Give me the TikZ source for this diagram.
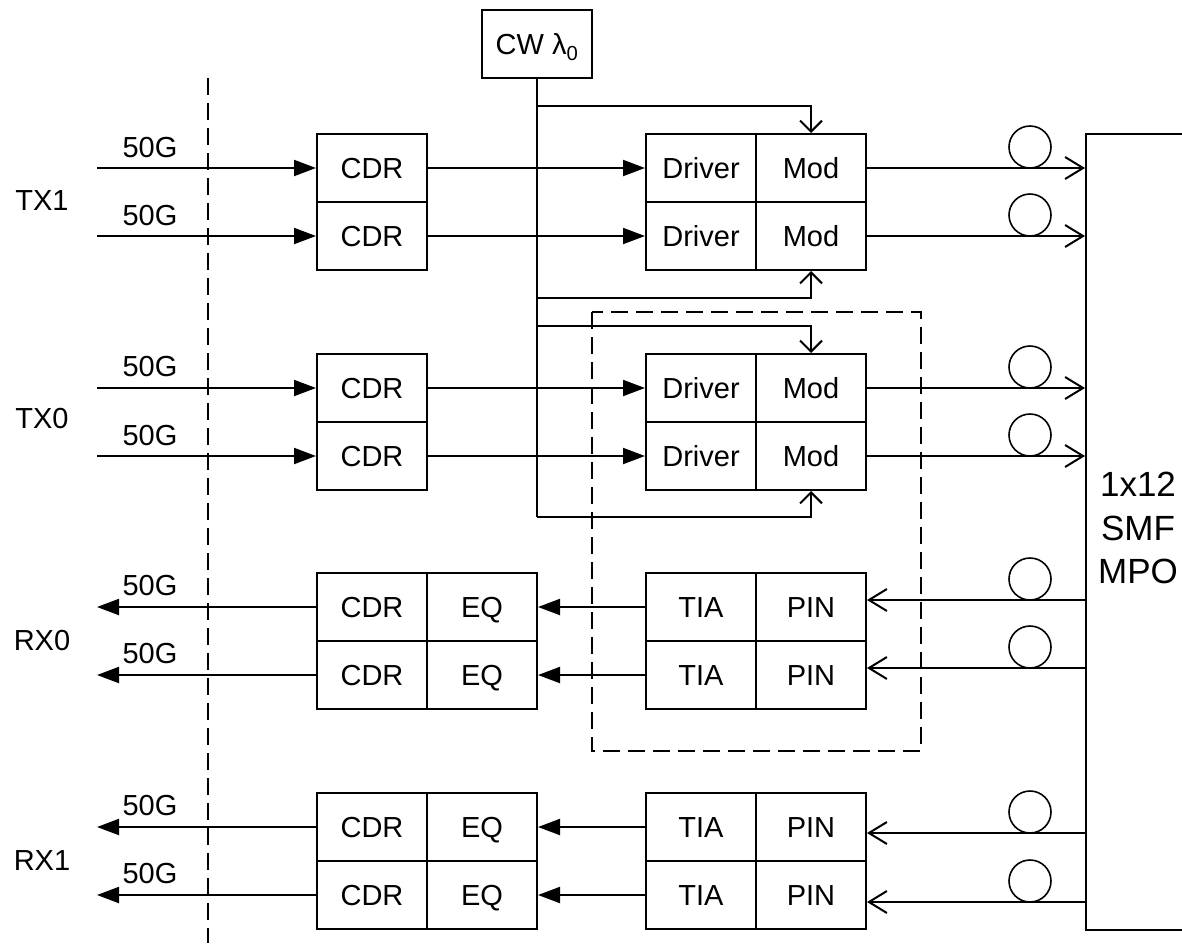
\documentclass[tikz,border=0pt]{standalone}
\usepackage{fontspec}
\setmainfont{Liberation Sans}
\usetikzlibrary{arrows.meta}
\begin{document}
\begin{tikzpicture}[x=1pt,y=-1pt,
  every node/.style={inner sep=0pt},
  ln/.style={line width=2pt},
  cell/.style={draw, line width=2pt, minimum width=110pt, minimum height=68pt, text height=21pt, text depth=0pt, font=\fontsize{29}{29}\selectfont},
  lbl/.style={text height=21pt, text depth=0pt, font=\fontsize{29}{29}\selectfont},
  farrow/.style={ln, -{Triangle[length=22pt,width=16pt]}},
  barb/.style={ln, -{Straight Barb[length=11pt,width=22pt]}},
  barbL/.style={ln, -{Straight Barb[length=18pt,width=22pt]}},
  coil/.style={circle, draw, line width=1.6pt, minimum size=42pt},
  dsh/.style={line width=2pt, dash pattern=on 17pt off 8pt}
]
\useasboundingbox (0,0) rectangle (1182,943);
\fill[white] (0,0) rectangle (1182,943);
\clip (0,0) rectangle (1182,943);

% dashed separators
\coordinate (vt) at (208,78);
\coordinate (vb) at (208,943);
\draw[dsh] (vt) -- (vb);
\coordinate (ra) at (592,312);
\coordinate (rb) at (921,751);
\draw[dsh] (ra) rectangle (rb);

% CW source
\node[cell] (cw) at (537,44) {CW λ\textsubscript{0}};

% TX CDRs
\node[cell] (c1) at (372,168) {CDR};
\node[cell] (c2) at (372,236) {CDR};
\node[cell] (c3) at (372,388) {CDR};
\node[cell] (c4) at (372,456) {CDR};

% Drivers / Mods
\node[cell] (d1) at (701,168) {Driver};
\node[cell] (m1) at (811,168) {Mod};
\node[cell] (d2) at (701,236) {Driver};
\node[cell] (m2) at (811,236) {Mod};
\node[cell] (d3) at (701,388) {Driver};
\node[cell] (m3) at (811,388) {Mod};
\node[cell] (d4) at (701,456) {Driver};
\node[cell] (m4) at (811,456) {Mod};

% RX CDR / EQ
\node[cell] (rc1) at (372,607) {CDR};
\node[cell] (eq1) at (482,607) {EQ};
\node[cell] (rc2) at (372,675) {CDR};
\node[cell] (eq2) at (482,675) {EQ};
\node[cell] (rc3) at (372,827) {CDR};
\node[cell] (eq3) at (482,827) {EQ};
\node[cell] (rc4) at (372,895) {CDR};
\node[cell] (eq4) at (482,895) {EQ};

% TIA / PIN
\node[cell] (tia1) at (701,607) {TIA};
\node[cell] (pin1) at (811,607) {PIN};
\node[cell] (tia2) at (701,675) {TIA};
\node[cell] (pin2) at (811,675) {PIN};
\node[cell] (tia3) at (701,827) {TIA};
\node[cell] (pin3) at (811,827) {PIN};
\node[cell] (tia4) at (701,895) {TIA};
\node[cell] (pin4) at (811,895) {PIN};

% MPO
\node[draw, ln, minimum width=130pt, minimum height=796pt, anchor=north west] (mpo) at (1085,133) {};
\node[align=center, font=\fontsize{35}{43.5}\selectfont] (mpotxt) at (1138,528) {1x12\\SMF\\MPO};

% side labels
\node[lbl] (tx1) at (42,200) {TX1};
\node[lbl] (tx0) at (42,418) {TX0};
\node[lbl] (rx0) at (42,640) {RX0};
\node[lbl] (rx1) at (42,860) {RX1};

\node[lbl] (g1) at (150,147) {50G};
\node[lbl] (g2) at (150,215) {50G};
\node[lbl] (g3) at (150,366) {50G};
\node[lbl] (g4) at (150,435) {50G};
\node[lbl] (g5) at (150,585) {50G};
\node[lbl] (g6) at (150,653) {50G};
\node[lbl] (g7) at (150,805) {50G};
\node[lbl] (g8) at (150,873) {50G};

% left end
\coordinate (L) at (97,0);

% TX inputs
\draw[farrow] (L |- c1.west) -- (c1.west);
\draw[farrow] (L |- c2.west) -- (c2.west);
\draw[farrow] (L |- c3.west) -- (c3.west);
\draw[farrow] (L |- c4.west) -- (c4.west);

% CDR -> Driver
\draw[farrow] (c1.east) -- (d1.west);
\draw[farrow] (c2.east) -- (d2.west);
\draw[farrow] (c3.east) -- (d3.west);
\draw[farrow] (c4.east) -- (d4.west);

% CW distribution
\coordinate (b1) at (537,106);
\coordinate (b2) at (537,298);
\coordinate (b3) at (537,326);
\coordinate (b4) at (537,517);
\draw[ln] (cw.south) -- (b4);
\draw[barb] (b1) -| (m1.north);
\draw[barb] (b2) -| (m2.south);
\draw[barb] (b3) -| (m3.north);
\draw[barb] (b4) -| (m4.south);

% Mod -> MPO
\draw[barbL] (m1.east) -- (m1.east -| mpo.west);
\draw[barbL] (m2.east) -- (m2.east -| mpo.west);
\draw[barbL] (m3.east) -- (m3.east -| mpo.west);
\draw[barbL] (m4.east) -- (m4.east -| mpo.west);

% MPO -> PIN
\coordinate (r1) at (1085,600);
\coordinate (r2) at (1085,668);
\coordinate (r3) at (1085,833);
\coordinate (r4) at (1085,902);
\draw[barbL] (r1) -- (r1 -| pin1.east);
\draw[barbL] (r2) -- (r2 -| pin2.east);
\draw[barbL] (r3) -- (r3 -| pin3.east);
\draw[barbL] (r4) -- (r4 -| pin4.east);

% TIA -> EQ
\draw[farrow] (tia1.west) -- (eq1.east);
\draw[farrow] (tia2.west) -- (eq2.east);
\draw[farrow] (tia3.west) -- (eq3.east);
\draw[farrow] (tia4.west) -- (eq4.east);

% RX outputs
\draw[farrow] (rc1.west) -- (L |- rc1.west);
\draw[farrow] (rc2.west) -- (L |- rc2.west);
\draw[farrow] (rc3.west) -- (L |- rc3.west);
\draw[farrow] (rc4.west) -- (L |- rc4.west);

% fibre coils
\node[coil] (k1) at (1030,147) {};
\node[coil] (k2) at (1030,215) {};
\node[coil] (k3) at (1030,367) {};
\node[coil] (k4) at (1030,435) {};
\node[coil] (k5) at (1030,579) {};
\node[coil] (k6) at (1030,647) {};
\node[coil] (k7) at (1030,812) {};
\node[coil] (k8) at (1030,881) {};
\end{tikzpicture}
\end{document}
